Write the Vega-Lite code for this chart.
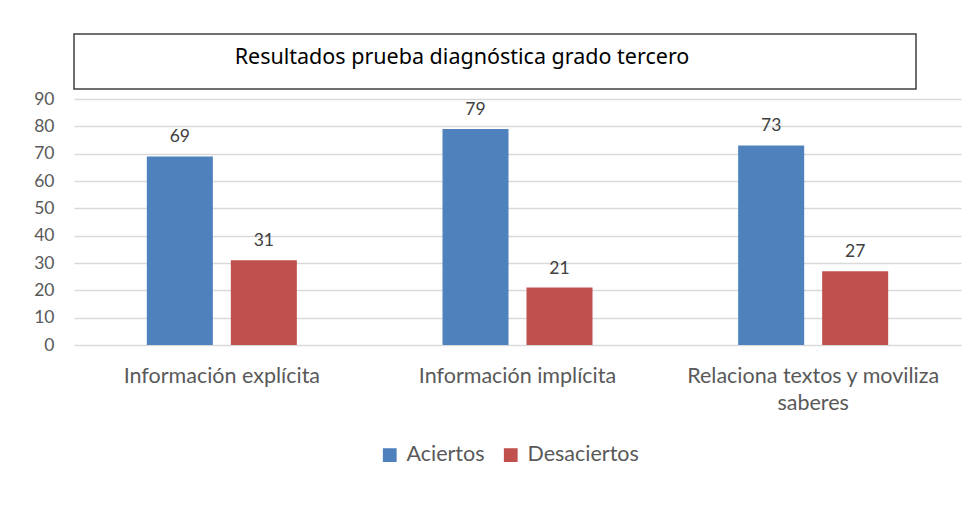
{
  "$schema": "https://vega.github.io/schema/vega-lite/v6.json",
  "padding": {"left": 33, "top": 33, "right": 5, "bottom": 5},
  "background": "white",
  "spacing": 0,
  "config": {
    "font": "Lato",
    "view": {"stroke": null}
  },
  "vconcat": [
    {
      "width": 842,
      "height": 55,
      "view": {"stroke": "#404040", "strokeWidth": 1.5},
      "data": {"values": [{"t": "Resultados prueba diagnóstica grado tercero"}]},
      "mark": {"type": "text", "font": "Noto Sans", "fontSize": 21.5, "color": "#000000", "dx": -33, "dy": -4},
      "encoding": {"text": {"field": "t"}}
    },
    {
      "width": 887,
      "height": 246,
      "data": {
        "values": [
          {"categoria": "Información explícita", "serie": "Aciertos", "valor": 69},
          {"categoria": "Información explícita", "serie": "Desaciertos", "valor": 31},
          {"categoria": "Información implícita", "serie": "Aciertos", "valor": 79},
          {"categoria": "Información implícita", "serie": "Desaciertos", "valor": 21},
          {"categoria": "Relaciona textos y moviliza saberes", "serie": "Aciertos", "valor": 73},
          {"categoria": "Relaciona textos y moviliza saberes", "serie": "Desaciertos", "valor": 27}
        ]
      },
      "encoding": {
        "x": {
          "field": "categoria", "type": "nominal", "sort": null,
          "scale": {"paddingInner": 0, "paddingOuter": 0},
          "axis": {
            "title": null, "labelAngle": 0, "ticks": false, "domain": false,
            "labelFontSize": 21.5, "labelColor": "#595959", "labelPadding": 20,
            "labelLineHeight": 27, "labelLimit": 400,
            "labelExpr": "datum.label == 'Relaciona textos y moviliza saberes' ? ['Relaciona textos y moviliza', 'saberes'] : datum.label"
          }
        },
        "xOffset": {
          "field": "serie", "type": "nominal",
          "scale": {"paddingInner": 0.214, "paddingOuter": 0.867}
        },
        "y": {
          "field": "valor", "type": "quantitative",
          "scale": {"domain": [0, 90], "nice": false},
          "axis": {
            "title": null, "values": [0, 10, 20, 30, 40, 50, 60, 70, 80, 90],
            "ticks": false, "domain": false, "labelFontSize": 17.5, "labelColor": "#595959",
            "labelPadding": 20, "gridColor": "#D9D9D9", "gridWidth": 1.3
          }
        },
        "color": {
          "field": "serie", "type": "nominal",
          "scale": {"domain": ["Aciertos", "Desaciertos"], "range": ["#4F81BD", "#C0504D"]},
          "legend": {
            "title": null, "orient": "none", "legendX": 305, "legendY": 410,
            "direction": "horizontal",
            "symbolType": "square", "symbolSize": 190, "symbolStrokeWidth": 0,
            "labelFontSize": 21.5, "labelColor": "#595959", "columnPadding": 15,
            "labelOffset": 6
          }
        }
      },
      "layer": [
        {"mark": {"type": "bar"}},
        {
          "mark": {"type": "text", "baseline": "alphabetic", "dy": -14, "fontSize": 17.5},
          "encoding": {
            "text": {"field": "valor", "type": "quantitative"},
            "color": {"value": "#404040"}
          }
        }
      ]
    }
  ]
}
